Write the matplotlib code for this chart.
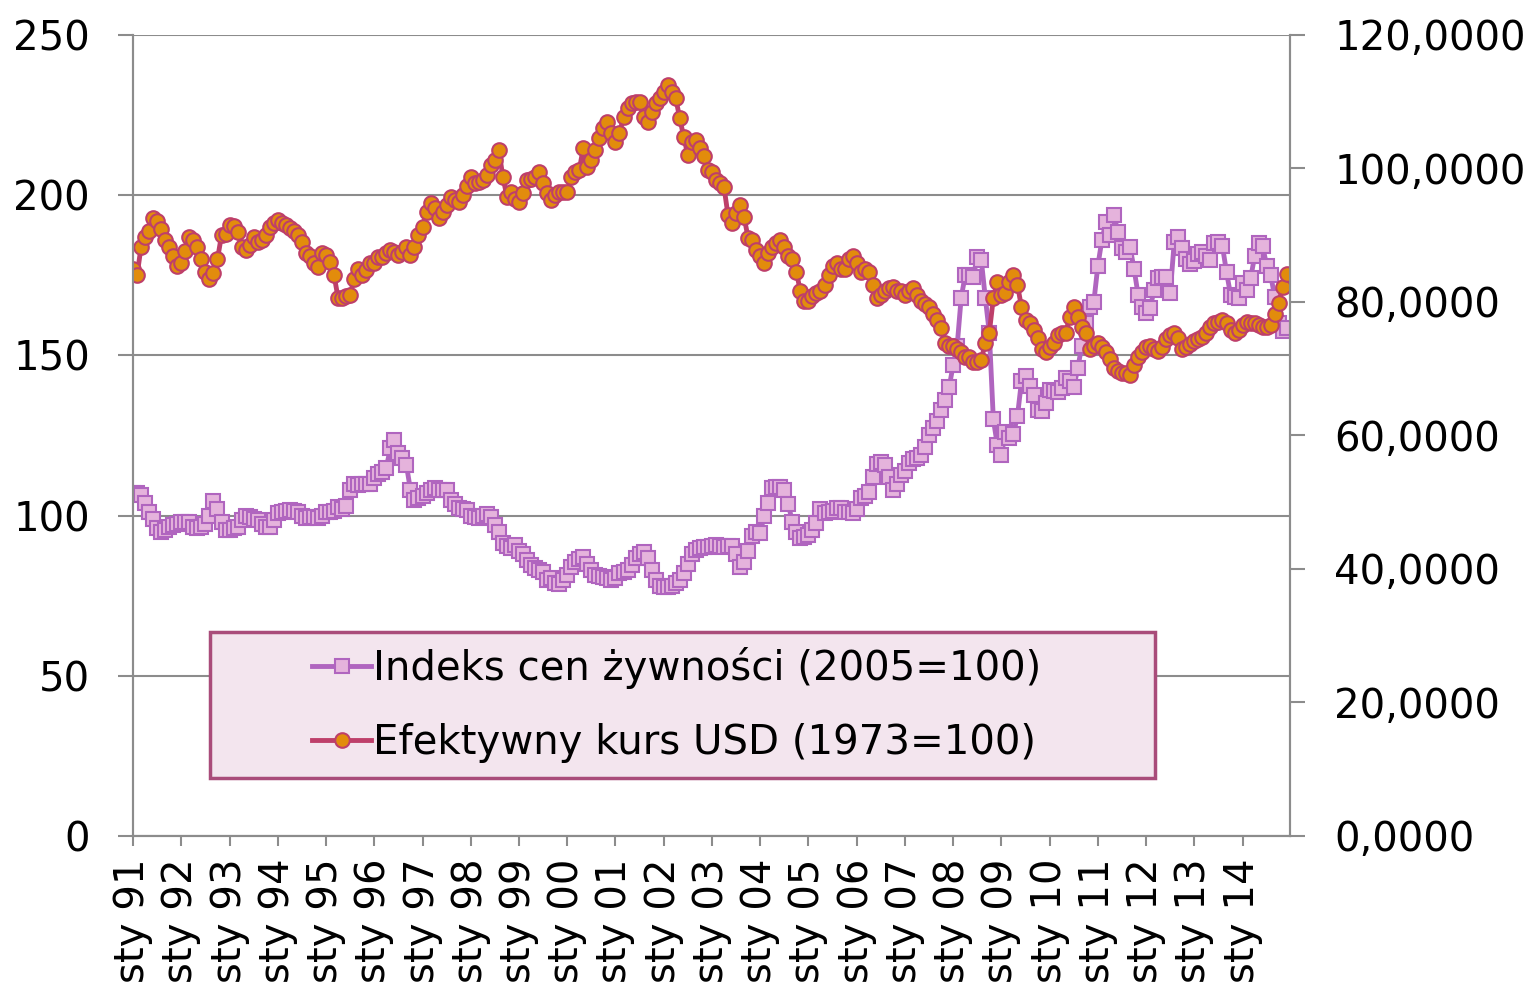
import numpy as np
import matplotlib
matplotlib.use("Agg")
import matplotlib.pyplot as plt
from matplotlib.patches import Rectangle

# monthly data, sty 1991 - gru 2014
food_index = [
    107, 107, 106.5, 104, 101, 99, 96, 95, 95.5, 96.5, 97, 97.5,
    98, 98, 98, 96.5, 96, 96.5, 97.5, 100, 104.5, 102, 98, 95.5,
    95.5, 96, 96.5, 98.5, 100, 99.6, 99, 98.6, 97.5, 96.5, 96.5, 98.5,
    100.8, 101, 101.5, 101.7, 101.5, 101, 100, 99.2, 99.6, 99.6, 99.2, 100,
    101, 101, 101.5, 102.7, 102, 103, 108, 110, 109.5, 110, 110, 110,
    111.7, 113, 113.5, 115, 121, 123.6, 119.5, 118, 115.8, 108, 105, 105.5,
    106, 107, 108, 108.6, 108, 108, 108, 105, 103.5, 102.4, 102, 101.7,
    100, 99.6, 99.2, 100, 100.5, 99.6, 97, 95, 91.4, 90.5, 90, 90.8,
    89, 88, 86, 84.5, 83.6, 83, 82.5, 80, 80.5, 79, 78.5, 80,
    81.5, 84, 85.5, 86.5, 87, 85, 83, 81.5, 81, 80.8, 80.5, 80,
    80.5, 82, 82.4, 83, 84.5, 86.8, 88, 88.6, 86.8, 83, 80, 78,
    77.7, 77.7, 78, 79, 80, 82, 85, 88, 89.3, 90, 90.2, 90.2,
    90.5, 90.8, 90.5, 90.2, 90.5, 90.5, 88, 84, 85.5, 89, 93.5, 95,
    94.5, 100, 104, 108.6, 109, 109, 108, 103.5, 98, 95, 93, 93.3,
    94, 95.5, 97.7, 102, 100.8, 101, 101.5, 102.4, 102.4, 101, 101, 100.8,
    102, 105.5, 106, 107.5, 112, 116, 116.7, 115.8, 112, 108, 110, 112.7,
    114, 116.5, 117.8, 118, 119, 121.5, 125, 127.3, 129.5, 133, 136, 140,
    147, 153, 168, 175, 175, 174.5, 180.7, 179.8, 168, 157, 130, 122,
    118.9, 126, 124.2, 125.5, 131, 142, 143.5, 140.5, 137.5, 133, 132.5, 135,
    139.2, 138.8, 138.6, 139.8, 143, 142, 140, 146, 153, 160, 165, 166.7,
    178, 186, 191.6, 187.6, 193.8, 188.5, 183.5, 182.3, 183.8, 177, 169, 165,
    163.2, 164.8, 170.4, 174, 174.5, 174.5, 169.5, 185.4, 187, 183.5, 180, 178.5,
    179.5, 181.5, 182.3, 181, 179.8, 185.1, 185.4, 184, 176, 169, 168.2, 168,
    172.6, 170.4, 174, 181, 185, 184, 178, 175, 168.2, 160, 157.5, 158.5,
]

usd_index = [
    85.0, 84.0, 88.3, 89.8, 90.7, 92.6, 92.2, 91.0, 89.3, 88.3, 86.9, 85.4,
    85.9, 87.6, 89.8, 89.3, 88.3, 86.4, 84.5, 83.5, 84.3, 86.4, 90.0, 90.2,
    91.5, 91.4, 90.5, 88.3, 87.8, 88.6, 89.8, 89.0, 89.3, 90.0, 91.2, 91.8,
    92.3, 91.9, 91.5, 91.1, 90.7, 90.0, 89.0, 87.4, 86.9, 85.8, 85.2, 87.4,
    87.0, 86.0, 84.0, 80.6, 80.6, 80.9, 81.1, 83.5, 85.0, 84.0, 84.8, 85.8,
    85.8, 86.7, 86.7, 87.4, 87.8, 87.5, 87.0, 87.5, 88.3, 87.0, 88.3, 90.0,
    91.2, 93.5, 94.8, 94.1, 92.6, 93.5, 94.6, 95.8, 95.3, 95.0, 96.0, 97.4,
    98.7, 97.8, 97.9, 98.3, 99.0, 100.5, 101.3, 102.7, 98.7, 95.8, 96.5, 95.5,
    95.0, 96.3, 98.3, 98.4, 98.7, 99.5, 97.8, 96.3, 95.3, 96.0, 96.5, 96.5,
    96.5, 98.7, 99.4, 99.8, 103.1, 100.2, 101.3, 102.7, 104.5, 106.1, 106.9, 105.3,
    104.0, 105.3, 107.7, 109.1, 109.8, 109.9, 109.9, 107.7, 106.9, 108.5, 109.8, 110.6,
    111.4, 112.5, 111.4, 110.5, 107.5, 104.7, 102.0, 104.0, 104.3, 103.1, 101.8, 99.8,
    99.4, 98.3, 97.8, 97.2, 93.0, 91.8, 93.3, 94.6, 92.7, 89.6, 89.3, 87.8,
    86.9, 85.9, 87.4, 88.3, 88.8, 89.3, 88.3, 86.9, 86.4, 84.5, 81.6, 80.2,
    80.2, 80.9, 81.4, 81.6, 82.6, 84.0, 85.4, 85.9, 85.0, 85.0, 86.4, 86.9,
    85.9, 84.5, 85.0, 84.5, 82.6, 80.6, 81.1, 81.6, 82.1, 82.3, 81.6, 81.6,
    81.1, 81.6, 82.1, 81.1, 80.2, 79.7, 79.2, 78.2, 77.3, 76.1, 73.9, 73.4,
    73.4, 73.0, 72.5, 71.8, 71.8, 71.0, 71.0, 71.3, 73.9, 75.4, 80.6, 83.0,
    81.1, 81.4, 83.0, 84.0, 82.6, 79.2, 77.3, 76.8, 75.8, 74.6, 73.0, 72.5,
    73.2, 73.9, 75.1, 75.4, 75.4, 77.8, 79.2, 77.8, 76.3, 75.4, 73.0, 73.4,
    73.9, 73.2, 72.5, 71.5, 70.1, 69.6, 69.4, 69.4, 69.1, 70.6, 71.8, 72.5,
    73.2, 73.4, 73.0, 72.7, 73.2, 74.4, 75.1, 75.4, 74.6, 73.0, 73.2, 73.7,
    74.2, 74.4, 74.7, 75.4, 76.3, 76.8, 77.0, 77.3, 76.8, 75.8, 75.4, 75.8,
    76.6, 77.0, 76.8, 76.8, 76.6, 76.3, 76.3, 76.6, 78.2, 79.9, 82.3, 84.2,
]

years = ['91', '92', '93', '94', '95', '96', '97', '98', '99', '00', '01', '02',
         '03', '04', '05', '06', '07', '08', '09', '10', '11', '12', '13', '14']
left_ticks = [0, 50, 100, 150, 200, 250]
right_ticks = [0, 20, 40, 60, 80, 100, 120]

plt.rcParams['font.family'] = ['DejaVu Sans']
FS = 29
GRAY = '#8c8c8c'

fig = plt.figure(figsize=(15.33, 9.94), dpi=100)
ax = fig.add_axes([0.0868, 0.159, 0.7547, 0.8058])
ax2 = ax.twinx()

months = np.arange(len(food_index))

ax.plot(months, food_index, color='#b065bf', lw=3.5, marker='s', ms=10,
        mfc='#e5b3dc', mec='#b065bf', mew=1.5, label='Indeks cen żywności (2005=100)')
ax2.plot(months, usd_index, color='#be3f6a', lw=3.5, marker='o', ms=10.5,
         mfc='#e28c0c', mec='#be3f6a', mew=1.5, label='Efektywny kurs USD (1973=100)')

ax.set_xlim(0, 287.8)
ax.set_ylim(0, 250)
ax2.set_ylim(0, 120)

ax.set_yticks(left_ticks)
ax.set_yticklabels([str(v) for v in left_ticks], fontsize=FS)
ax2.set_yticks(right_ticks)
ax2.set_yticklabels([f'{v},0000' for v in right_ticks], fontsize=FS)

ax.set_xticks(np.arange(0, 288, 12))
ax.set_xticklabels(['sty ' + y for y in years], rotation=90, fontsize=FS)

ax.yaxis.grid(True, color=GRAY, lw=1.5)
ax.set_axisbelow(True)

for a in (ax, ax2):
    for s in a.spines.values():
        s.set_color(GRAY)
        s.set_linewidth(1.5)
    a.spines['top'].set_visible(False)
ax.tick_params(axis='y', length=11, width=1.5, color=GRAY, pad=20)
ax2.tick_params(axis='y', length=11, width=1.5, color=GRAY, pad=21)
ax.tick_params(axis='x', length=7, width=1.5, color=GRAY, pad=9)

# legend box
box = Rectangle((0.0666, 0.0724), 0.8167, 0.1823, transform=ax2.transAxes,
                facecolor='#f3e5ee', edgecolor='#a94c7a', lw=2.5, zorder=4)
ax2.add_patch(box)
h1, l1 = ax.get_legend_handles_labels()
h2, l2 = ax2.get_legend_handles_labels()
leg = ax2.legend(h1 + h2, l1 + l2, loc='center', bbox_to_anchor=(0.47, 0.1635),
                 frameon=False, fontsize=FS, numpoints=1, handlelength=1.45,
                 handletextpad=0.05, labelspacing=0.85)
leg.set_zorder(5)

fig.savefig('out.png', dpi=100)
